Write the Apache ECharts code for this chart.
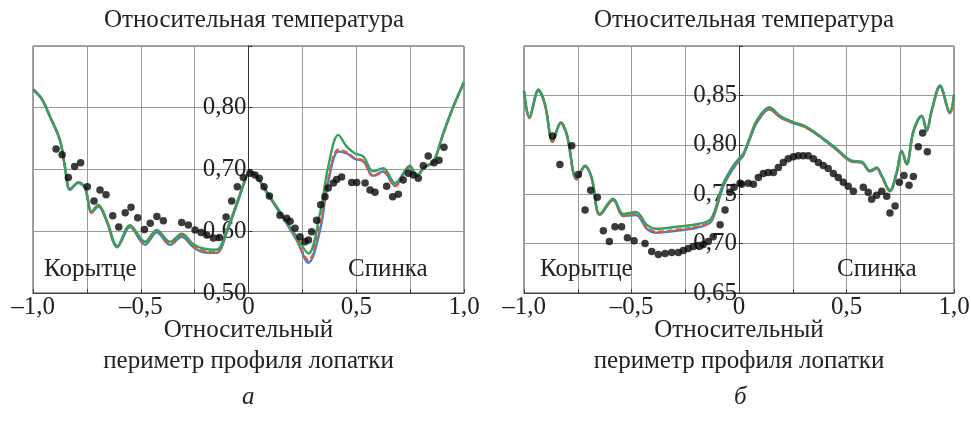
<!DOCTYPE html>
<html>
<head>
<meta charset="utf-8">
<script src="https://cdn.jsdelivr.net/npm/echarts@6/dist/echarts.min.js"></script>
<style>html,body{margin:0;padding:0;background:#fff}#c{width:971px;height:421px}</style>
</head>
<body>
<div id="c"></div>
<script>
// ---------- DATA ----------
var titleText = 'Относительная температура';
var xAxisName = 'Относительный\nпериметр профиля лопатки';
var panelLetters = ['а', 'б'];
var sideLabels = ['Корытце', 'Спинка'];

// Panel a: computed curves [x, T]
var aGreen = [[-1.0,0.830],[-0.96,0.815],[-0.921,0.786],[-0.875,0.748],[-0.852,0.705],[-0.828,0.668],[-0.79,0.679],[-0.759,0.672],[-0.728,0.632],[-0.697,0.643],[-0.658,0.618],[-0.609,0.576],[-0.55,0.610],[-0.48,0.583],[-0.426,0.602],[-0.364,0.583],[-0.31,0.596],[-0.256,0.579],[-0.21,0.572],[-0.148,0.570],[-0.101,0.602],[-0.055,0.645],[-0.008,0.690],[0.01,0.697],[0.04,0.688],[0.10,0.656],[0.161,0.624],[0.224,0.591],[0.278,0.564],[0.332,0.629],[0.37,0.705],[0.417,0.756],[0.456,0.737],[0.494,0.726],[0.533,0.721],[0.579,0.697],[0.625,0.702],[0.68,0.678],[0.749,0.706],[0.78,0.691],[0.819,0.705],[0.858,0.713],[0.904,0.759],[0.95,0.802],[1.0,0.842]];
var aRed = [[-1.0,0.830],[-0.96,0.815],[-0.921,0.786],[-0.875,0.748],[-0.852,0.705],[-0.828,0.668],[-0.79,0.679],[-0.759,0.671],[-0.728,0.630],[-0.697,0.641],[-0.658,0.616],[-0.609,0.575],[-0.55,0.608],[-0.48,0.580],[-0.426,0.600],[-0.364,0.580],[-0.31,0.593],[-0.256,0.576],[-0.21,0.568],[-0.148,0.566],[-0.101,0.600],[-0.055,0.644],[-0.008,0.690],[0.01,0.697],[0.04,0.688],[0.10,0.655],[0.161,0.622],[0.224,0.587],[0.278,0.553],[0.332,0.610],[0.37,0.685],[0.417,0.732],[0.456,0.728],[0.494,0.718],[0.533,0.714],[0.579,0.689],[0.625,0.696],[0.68,0.673],[0.749,0.703],[0.78,0.690],[0.819,0.704],[0.858,0.712],[0.904,0.758],[0.95,0.801],[1.0,0.841]];
var aBlue = [[-1.0,0.829],[-0.96,0.814],[-0.921,0.785],[-0.875,0.747],[-0.852,0.704],[-0.828,0.667],[-0.79,0.678],[-0.759,0.670],[-0.728,0.630],[-0.697,0.640],[-0.658,0.616],[-0.609,0.574],[-0.55,0.607],[-0.48,0.578],[-0.426,0.598],[-0.364,0.578],[-0.31,0.591],[-0.256,0.574],[-0.21,0.566],[-0.148,0.565],[-0.101,0.598],[-0.055,0.642],[-0.008,0.689],[0.01,0.696],[0.04,0.687],[0.10,0.654],[0.161,0.621],[0.224,0.585],[0.278,0.549],[0.332,0.602],[0.37,0.680],[0.417,0.729],[0.456,0.726],[0.494,0.717],[0.533,0.713],[0.579,0.690],[0.625,0.697],[0.68,0.674],[0.749,0.704],[0.78,0.690],[0.819,0.704],[0.858,0.712],[0.904,0.758],[0.95,0.801],[1.0,0.841]];
// Panel a: experiment points
var aDots = [[-0.893,0.733],[-0.865,0.724],[-0.836,0.687],[-0.807,0.705],[-0.779,0.711],[-0.748,0.672],[-0.717,0.649],[-0.689,0.667],[-0.661,0.659],[-0.630,0.625],[-0.602,0.607],[-0.572,0.630],[-0.545,0.639],[-0.514,0.622],[-0.483,0.603],[-0.456,0.613],[-0.425,0.624],[-0.395,0.617],[-0.31,0.614],[-0.279,0.610],[-0.248,0.602],[-0.22,0.598],[-0.194,0.594],[-0.163,0.589],[-0.135,0.590],[-0.104,0.623],[-0.078,0.649],[-0.052,0.672],[-0.024,0.687],[0.007,0.694],[0.030,0.691],[0.050,0.686],[0.072,0.672],[0.097,0.657],[0.146,0.626],[0.177,0.621],[0.193,0.616],[0.216,0.605],[0.239,0.591],[0.262,0.583],[0.278,0.586],[0.293,0.599],[0.316,0.618],[0.335,0.643],[0.355,0.656],[0.370,0.670],[0.394,0.678],[0.409,0.684],[0.432,0.688],[0.479,0.679],[0.502,0.679],[0.541,0.678],[0.564,0.667],[0.587,0.663],[0.641,0.673],[0.669,0.656],[0.695,0.660],[0.718,0.683],[0.742,0.694],[0.765,0.691],[0.788,0.686],[0.811,0.706],[0.834,0.722],[0.861,0.711],[0.884,0.715],[0.907,0.736]];

// Panel b: computed curves
var bGreen = [[-1.0,0.855],[-0.975,0.828],[-0.933,0.856],[-0.902,0.841],[-0.867,0.804],[-0.829,0.823],[-0.801,0.811],[-0.755,0.766],[-0.716,0.779],[-0.685,0.767],[-0.647,0.730],[-0.585,0.7455],[-0.538,0.730],[-0.479,0.732],[-0.429,0.719],[-0.383,0.715],[-0.29,0.717],[-0.197,0.7196],[-0.135,0.724],[-0.112,0.734],[-0.073,0.761],[-0.027,0.779],[0.005,0.7875],[0.02,0.791],[0.051,0.808],[0.082,0.8245],[0.141,0.838],[0.191,0.8295],[0.253,0.823],[0.307,0.819],[0.377,0.809],[0.454,0.796],[0.524,0.784],[0.571,0.783],[0.609,0.774],[0.64,0.777],[0.664,0.769],[0.702,0.754],[0.733,0.772],[0.757,0.794],[0.78,0.781],[0.811,0.814],[0.85,0.8295],[0.873,0.815],[0.896,0.835],[0.935,0.860],[0.981,0.833],[1.0,0.851]];
var bRed = [[-1.0,0.854],[-0.975,0.827],[-0.933,0.855],[-0.902,0.840],[-0.867,0.803],[-0.829,0.822],[-0.801,0.810],[-0.755,0.765],[-0.716,0.778],[-0.685,0.766],[-0.647,0.729],[-0.585,0.744],[-0.538,0.728],[-0.479,0.730],[-0.429,0.716],[-0.383,0.712],[-0.29,0.714],[-0.197,0.717],[-0.135,0.722],[-0.112,0.732],[-0.073,0.759],[-0.027,0.777],[0.005,0.786],[0.02,0.790],[0.051,0.807],[0.082,0.823],[0.141,0.836],[0.191,0.828],[0.253,0.822],[0.307,0.818],[0.377,0.808],[0.454,0.795],[0.524,0.783],[0.571,0.782],[0.609,0.773],[0.64,0.776],[0.664,0.768],[0.702,0.753],[0.733,0.771],[0.757,0.793],[0.78,0.780],[0.811,0.813],[0.85,0.829],[0.873,0.814],[0.896,0.834],[0.935,0.859],[0.981,0.832],[1.0,0.850]];
var bBlue = [[-1.0,0.854],[-0.975,0.827],[-0.933,0.855],[-0.902,0.840],[-0.867,0.803],[-0.829,0.822],[-0.801,0.810],[-0.755,0.765],[-0.716,0.778],[-0.685,0.766],[-0.647,0.729],[-0.585,0.744],[-0.538,0.728],[-0.479,0.729],[-0.429,0.715],[-0.383,0.711],[-0.29,0.713],[-0.197,0.716],[-0.135,0.721],[-0.112,0.731],[-0.073,0.758],[-0.027,0.776],[0.005,0.785],[0.02,0.789],[0.051,0.806],[0.082,0.822],[0.141,0.836],[0.191,0.828],[0.253,0.822],[0.307,0.818],[0.377,0.808],[0.454,0.795],[0.524,0.783],[0.571,0.782],[0.609,0.773],[0.64,0.776],[0.664,0.768],[0.702,0.753],[0.733,0.771],[0.757,0.793],[0.78,0.780],[0.811,0.813],[0.85,0.829],[0.873,0.814],[0.896,0.834],[0.935,0.859],[0.981,0.832],[1.0,0.850]];
var bDots = [[-0.867,0.809],[-0.833,0.780],[-0.778,0.799],[-0.747,0.770],[-0.716,0.734],[-0.690,0.754],[-0.659,0.747],[-0.631,0.713],[-0.603,0.702],[-0.577,0.717],[-0.546,0.717],[-0.519,0.706],[-0.488,0.703],[-0.437,0.700],[-0.406,0.692],[-0.375,0.689],[-0.344,0.690],[-0.313,0.691],[-0.282,0.691],[-0.259,0.693],[-0.236,0.695],[-0.213,0.697],[-0.189,0.698],[-0.166,0.699],[-0.143,0.702],[-0.12,0.707],[-0.088,0.719],[-0.065,0.734],[-0.042,0.752],[-0.023,0.757],[0.005,0.761],[0.012,0.760],[0.043,0.761],[0.067,0.760],[0.09,0.767],[0.113,0.771],[0.136,0.772],[0.16,0.772],[0.183,0.777],[0.206,0.782],[0.229,0.786],[0.253,0.788],[0.276,0.789],[0.299,0.789],[0.322,0.789],[0.346,0.786],[0.369,0.782],[0.392,0.779],[0.415,0.776],[0.439,0.771],[0.462,0.767],[0.485,0.762],[0.508,0.758],[0.532,0.753],[0.578,0.757],[0.601,0.752],[0.617,0.745],[0.64,0.749],[0.664,0.753],[0.687,0.748],[0.702,0.731],[0.726,0.738],[0.746,0.762],[0.767,0.769],[0.791,0.759],[0.811,0.768],[0.834,0.798],[0.854,0.812],[0.876,0.793]];

var xTicks = [-1, -0.5, 0, 0.5, 1];
var aYRange = [0.5, 0.9, 0.1];
var bYRange = [0.65, 0.9, 0.05];

// ---------- STYLE ----------
var FONT = '"Liberation Serif","Times New Roman",serif';
var FS = 25;
var C_GREEN = '#3a9e5c', C_RED = '#e4573c', C_BLUE = '#3b82d0';

function fmtX(v) {
  var ok = xTicks.some(function (t) { return Math.abs(t - v) < 1e-9; });
  if (!ok) return '';
  if (Math.abs(v) < 1e-9) return '0';
  var s = Math.abs(v).toFixed(1).replace('.', ',');
  return (v < 0 ? '\u2013' : '') + s;
}
function fmtY(max) {
  return function (v) { return Math.abs(v - max) < 1e-9 ? '' : v.toFixed(2).replace('.', ','); };
}

var GL = [33, 524], GR = [507, 17];
var grids = [0, 1].map(function (i) {
  return {left: GL[i], right: GR[i], top: 46, bottom: 128, show: true, borderColor: '#444', borderWidth: 1,
    backgroundColor: 'transparent', outerBoundsMode: 'none', containLabel: false};
});

function xAx(i) {
  return {
    type: 'value', gridIndex: i, min: -1, max: 1, interval: 0.25,
    name: xAxisName, nameLocation: 'middle', nameGap: 22, nameMoveOverlap: false,
    nameTextStyle: {fontFamily: FONT, fontSize: FS, color: '#222', lineHeight: 31},
    axisLine: {onZero: false, lineStyle: {color: '#444'}},
    axisTick: {show: true, inside: true, length: 4, lineStyle: {color: '#444'}},
    axisLabel: {formatter: fmtX, fontFamily: FONT, fontSize: FS, color: '#222', margin: 2, showMinLabel: true, showMaxLabel: true, hideOverlap: false},
    splitLine: {show: true, lineStyle: {color: '#9a9a9a', width: 1}}
  };
}
function yAx(i, r) {
  var w = 971 - GL[i] - GR[i];
  return {
    type: 'value', gridIndex: i, min: r[0], max: r[1], interval: r[2], position: 'left',
    offset: -w / 2,
    axisLine: {onZero: false, show: true, lineStyle: {color: '#333', width: 1}},
    axisTick: {show: true, inside: true, length: 4, lineStyle: {color: '#333'}},
    axisLabel: {formatter: fmtY(r[1]), fontFamily: FONT, fontSize: FS, color: '#222', margin: 2, showMinLabel: true},
    splitLine: {show: true, lineStyle: {color: '#9a9a9a', width: 1}}
  };
}

function lineS(i, data, color, dashed) {
  return {type: 'line', xAxisIndex: i, yAxisIndex: i, data: data, smooth: 0.35, symbol: 'none',
    lineStyle: {color: color, width: 2.4, type: dashed ? [6, 3] : 'solid'}, z: 3};
}
function dotS(i, data) {
  return {type: 'scatter', xAxisIndex: i, yAxisIndex: i, data: data, symbol: 'circle', symbolSize: 7.5,
    itemStyle: {color: '#0a0a0a'}, z: 5};
}

var option = {
  animation: false,
  backgroundColor: '#fff',
  title: [
    {text: titleText, left: 249, top: 3, textAlign: 'center', textStyle: {fontFamily: FONT, fontSize: FS, fontWeight: 'normal', color: '#222'}},
    {text: titleText, left: 739, top: 3, textAlign: 'center', textStyle: {fontFamily: FONT, fontSize: FS, fontWeight: 'normal', color: '#222'}}
  ],
  grid: grids,
  xAxis: [xAx(0), xAx(1)],
  yAxis: [yAx(0, aYRange), yAx(1, bYRange)],
  series: [
    lineS(0, aBlue, C_BLUE, false), lineS(0, aRed, C_RED, true), lineS(0, aGreen, C_GREEN, false), dotS(0, aDots),
    lineS(1, bBlue, C_BLUE, false), lineS(1, bRed, C_RED, true), lineS(1, bGreen, C_GREEN, false), dotS(1, bDots)
  ],
  graphic: [
    {type: 'text', left: 44, top: 257, style: {text: sideLabels[0], font: FS + 'px ' + FONT, fill: '#222'}, z: 10},
    {type: 'text', left: 348, top: 257, style: {text: sideLabels[1], font: FS + 'px ' + FONT, fill: '#222'}, z: 10},
    {type: 'text', left: 540, top: 257, style: {text: sideLabels[0], font: FS + 'px ' + FONT, fill: '#222'}, z: 10},
    {type: 'text', left: 837, top: 257, style: {text: sideLabels[1], font: FS + 'px ' + FONT, fill: '#222'}, z: 10},
    {type: 'text', left: 242, top: 385, style: {text: panelLetters[0], font: 'italic ' + FS + 'px ' + FONT, fill: '#222'}},
    {type: 'text', left: 734, top: 385, style: {text: panelLetters[1], font: 'italic ' + FS + 'px ' + FONT, fill: '#222'}}
  ]
};
var chart = echarts.init(document.getElementById('c'), null, {renderer: 'canvas'});
chart.setOption(option);
</script>
</body>
</html>
